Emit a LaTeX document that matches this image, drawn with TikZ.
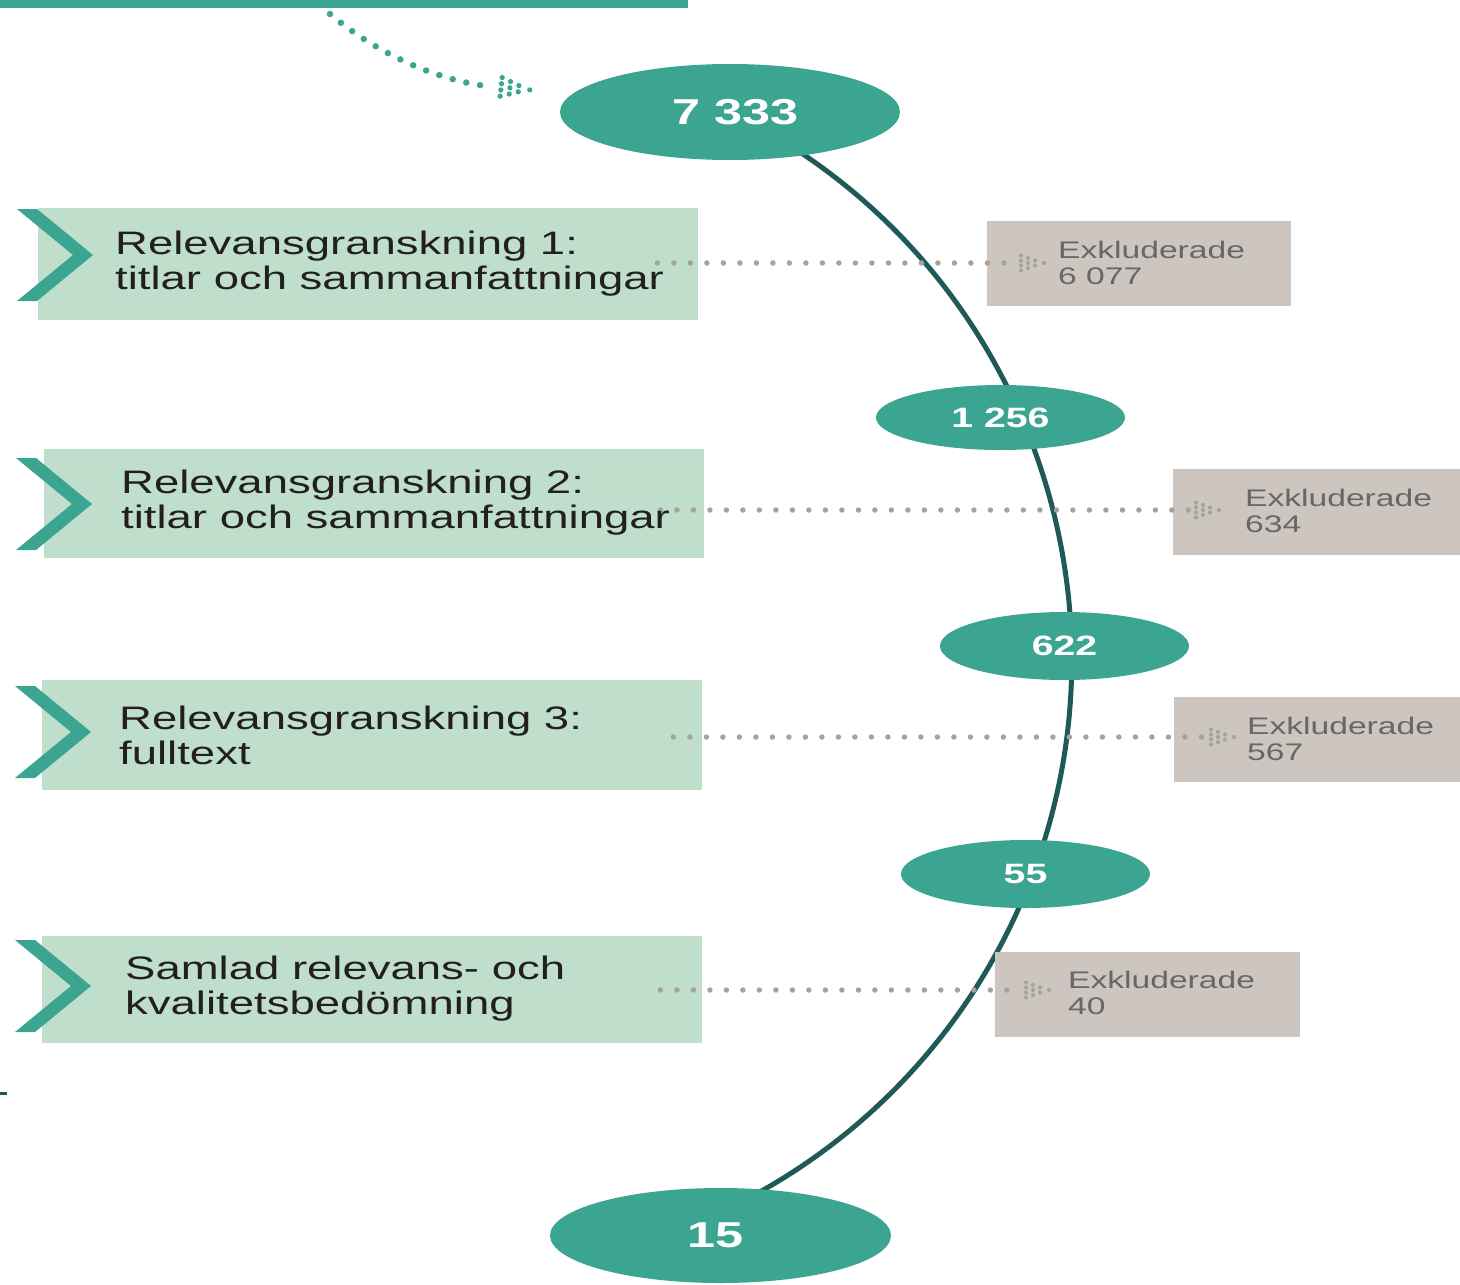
\documentclass[tikz,border=0pt]{standalone}
\usepackage{fontspec}
\setmainfont{Liberation Sans}[FakeStretch=1.4]
\usetikzlibrary{shapes.geometric,calc}
\pgfdeclarelayer{background}
\pgfsetlayers{background,main}
\definecolor{teal1}{HTML}{3BA592}
\definecolor{mint}{HTML}{BFDECC}
\definecolor{stone}{HTML}{CDC5BF}
\definecolor{darkline}{HTML}{1F5A59}
\definecolor{dotgray}{HTML}{A8A29D}
\definecolor{txtgray}{HTML}{6B6661}
\definecolor{txtdark}{HTML}{231F20}
\begin{document}
\begin{tikzpicture}[x=1pt,y=-1pt,
  count/.style={ellipse, fill=teal1, inner sep=0pt, text=white, font=\bfseries\fontsize{28}{30}\selectfont},
  bigcount/.style={count, font=\bfseries\fontsize{36}{38}\selectfont},
  stagebox/.style={rectangle, fill=mint, inner sep=0pt, minimum width=660pt, anchor=north west},
  stagetext/.style={anchor=west, align=left, inner sep=0pt, text=txtdark, font=\fontsize{32.5}{35}\selectfont},
  exbox/.style={rectangle, fill=stone, inner sep=0pt, anchor=north west},
  extext/.style={anchor=west, align=left, inner sep=0pt, text=txtgray, font=\fontsize{24}{26}\selectfont},
  flowline/.style={draw=darkline, line width=5pt},
  exdots/.style={draw=dotgray, line width=5.5pt, line cap=round, dash pattern=on 0pt off 16.5pt},
  topdots/.style={draw=teal1, line width=6.5pt, line cap=round, dash pattern=on 0pt off 14pt},
  chevron/.pic={\fill[teal1] (-76,-46) -- (-56,-46) -- (0,0) -- (-56,46) -- (-76,46) -- (-20,0) -- cycle;},
  dothead/.pic={\foreach \px/\py in {-24/-7.5,-24/-2.5,-24/2.5,-24/7.5,-17/-5,-17/0,-17/5,-10/-2.5,-10/2.5,-1/0}
      {\fill (\px,\py) circle[radius=2.1];}}
]
\useasboundingbox (0,0) rectangle (1460,1285);

% top bar and small mark
\node[rectangle, fill=teal1, inner sep=0pt, minimum width=688pt, minimum height=8pt, anchor=north west] (bar) at (0,0) {};
\fill[darkline] (0,1092) rectangle (7,1095);

% stage boxes
\node[stagebox, minimum height=112pt] (g1) at (38,208) {};
\node[stagebox, minimum height=109pt] (g2) at (44,449) {};
\node[stagebox, minimum height=110pt] (g3) at (42,680) {};
\node[stagebox, minimum height=107pt] (g4) at (42,936) {};
\pic at (93,255) {chevron};
\pic at (92,504) {chevron};
\pic at (91,732) {chevron};
\pic at (91,986) {chevron};

% excluded boxes
\node[exbox, minimum width=304pt, minimum height=85pt] (x1) at (987,221) {};
\node[exbox, minimum width=287pt, minimum height=86pt] (x2) at (1173,469) {};
\node[exbox, minimum width=286pt, minimum height=85pt] (x3) at (1174,697) {};
\node[exbox, minimum width=305pt, minimum height=85pt] (x4) at (995,952) {};

% count ellipses
\node[bigcount, minimum width=340pt, minimum height=96pt] (n1) at (730,112) {\hspace*{12pt}7 333};
\node[count, minimum width=249pt, minimum height=65pt] (n2) at (1000.5,417.5) {1 256};
\node[count, minimum width=249pt, minimum height=68pt] (n3) at (1064.5,646) {622};
\node[count, minimum width=249pt, minimum height=68pt] (n4) at (1025.5,874) {55};
\node[bigcount, minimum width=341pt, minimum height=95pt] (n5) at (720.5,1235.5) {15\hspace*{10pt}};

% flow arc behind the ellipses, from n1 through n2, n3, n4 to n5
\begin{pgfonlayer}{background}
\draw[flowline] (n1.center) arc[start angle=-63.9, end angle=66, radius=610];
\end{pgfonlayer}

% top dotted arrow
\coordinate (c0) at (330,14);
\coordinate (c1) at (493,87);
\draw[topdots] (c0) .. controls (370,48) and (430,80) .. (c1);
\pic[color=teal1, scale=1.25, rotate=-6] at (531,90) {dothead};

% dotted exclusion lines
\coordinate (h1) at (1045,263);
\coordinate (h2) at (1220,510);
\coordinate (h3) at (1235,737);
\coordinate (h4) at (1050,990);
\draw[exdots] ($(g1.east |- h1)+(-41,0)$) -- ($(h1)+(-30,0)$);
\draw[exdots] ($(g2.east |- h2)+(-44,0)$) -- ($(h2)+(-30,0)$);
\draw[exdots] ($(g3.east |- h3)+(-29,0)$) -- ($(h3)+(-30,0)$);
\draw[exdots] ($(g4.east |- h4)+(-42,0)$) -- ($(h4)+(-30,0)$);
\pic[color=dotgray] at (h1) {dothead};
\pic[color=dotgray] at (h2) {dothead};
\pic[color=dotgray] at (h3) {dothead};
\pic[color=dotgray] at (h4) {dothead};

% texts
\node[stagetext] (t1) at (115,264) {Relevansgranskning 1:\\titlar och sammanfattningar};
\node[stagetext] (t2) at (121,503) {Relevansgranskning 2:\\titlar och sammanfattningar};
\node[stagetext] (t3) at (119,735) {Relevansgranskning 3:\\fulltext};
\node[stagetext] (t4) at (125,989) {Samlad relevans- och\\kvalitetsbedömning};
\node[extext] (e1) at (1058,263) {Exkluderade\\6 077};
\node[extext] (e2) at (1245,511) {Exkluderade\\634};
\node[extext] (e3) at (1247,739) {Exkluderade\\567};
\node[extext] (e4) at (1068,993) {Exkluderade\\40};
\end{tikzpicture}
\end{document}
